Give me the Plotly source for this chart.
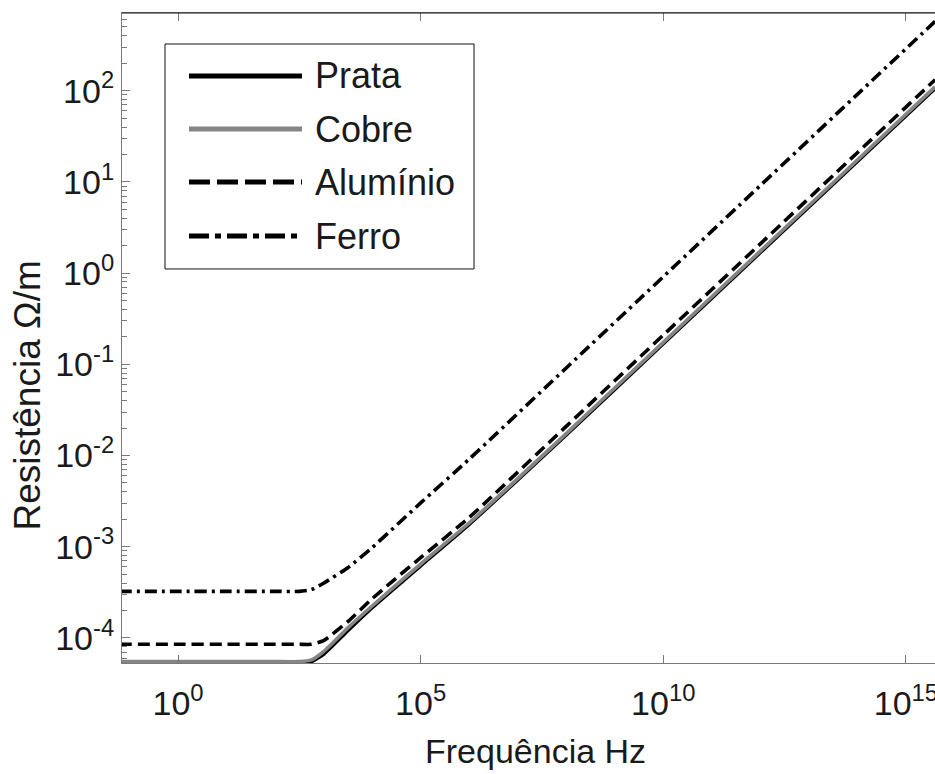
import plotly.graph_objects as go

# ---- data ----
freq_hz = [0.063, 1, 10, 100, 316, 562, 1000, 3162, 1e4, 1e5, 1e6, 1e8, 1e10, 1e12, 1e14, 4e15]

prata = [5.25e-5, 5.25e-5, 5.25e-5, 5.25e-5, 5.25e-5, 5.50e-5, 6.61e-5, 1.20e-4,
         2.14e-4, 6.17e-4, 1.76e-3, 1.68e-2, 0.168, 1.68, 16.8, 106]
cobre = [5.50e-5, 5.50e-5, 5.50e-5, 5.50e-5, 5.50e-5, 5.75e-5, 7.08e-5, 1.29e-4,
         2.24e-4, 6.46e-4, 1.82e-3, 1.74e-2, 0.174, 1.74, 17.4, 110]
aluminio = [8.51e-5, 8.51e-5, 8.51e-5, 8.51e-5, 8.51e-5, 8.51e-5, 9.33e-5, 1.51e-4,
            2.69e-4, 7.59e-4, 2.09e-3, 2.09e-2, 0.209, 2.09, 20.9, 132]
ferro = [3.24e-4, 3.24e-4, 3.24e-4, 3.24e-4, 3.24e-4, 3.39e-4, 3.98e-4, 5.89e-4,
         9.77e-4, 3.02e-3, 9.12e-3, 9.12e-2, 0.912, 9.12, 91.2, 575]

series_names = ["Prata", "Cobre", "Alumínio", "Ferro"]
series_values = [prata, cobre, aluminio, ferro]

x_tickvals = [1, 1e5, 1e10, 1e15]
x_ticktext = ["10<sup>0</sup>", "10<sup>5</sup>", "10<sup>10</sup>", "10<sup>15</sup>"]
y_tickvals = [1e-4, 1e-3, 1e-2, 1e-1, 1, 10, 100]
y_ticktext = ["10<sup>-4</sup>", "10<sup>-3</sup>", "10<sup>-2</sup>", "10<sup>-1</sup>",
              "10<sup>0</sup>", "10<sup>1</sup>", "10<sup>2</sup>"]

x_title = "Frequência Hz"
y_title = "Resistência Ω/m"

# ---- styles ----
series_colors = ["#000000", "#858585", "#000000", "#000000"]
series_dash = ["solid", "solid", "12px,6px", "12px,5px,3px,5px"]
legend_dash = ["solid", "solid", "21px,7px", "20px,6px,6px,6px"]
axis_gray = "#7a7a7a"
text_color = "#1a1a1a"
font_family = "Liberation Sans, Arial, sans-serif"

fig = go.Figure()
for name, vals, col, dash in zip(series_names, series_values, series_colors, series_dash):
    fig.add_trace(go.Scatter(
        x=freq_hz, y=vals, mode="lines", name=name,
        line=dict(color=col, width=3.6, dash=dash, shape="spline", smoothing=0.5),
        showlegend=False,
    ))

minor_y = [m * 10.0 ** e for e in range(-5, 3) for m in range(2, 10)]

fig.update_layout(
    width=935, height=774,
    margin=dict(l=122, r=0, t=13, b=111, autoexpand=False),
    paper_bgcolor="white", plot_bgcolor="white",
    showlegend=False,
    font=dict(family=font_family, size=34, color=text_color),
    xaxis=dict(
        type="log", range=[-1.154, 15.60],
        tickmode="array", tickvals=x_tickvals, ticktext=x_ticktext,
        ticks="inside", ticklen=8, tickcolor=axis_gray, tickwidth=1,
        showline=True, linecolor=axis_gray, linewidth=1, mirror="ticks",
        showgrid=False, zeroline=False, ticklabelstandoff=10,
        ticklabeloverflow="allow", automargin=False,
        tickfont=dict(family=font_family, size=34, color=text_color),
    ),
    yaxis=dict(
        type="log", range=[-4.275, 2.852],
        tickmode="array", tickvals=y_tickvals, ticktext=y_ticktext,
        ticks="inside", ticklen=8, tickcolor=axis_gray, tickwidth=1,
        showline=True, linecolor=axis_gray, linewidth=1, mirror=False,
        showgrid=False, zeroline=False, automargin=False,
        minor=dict(tickmode="array", tickvals=minor_y, ticks="inside", ticklen=5,
                   tickcolor=axis_gray, showgrid=False),
        tickfont=dict(family=font_family, size=34, color=text_color),
    ),
)

# top frame line
fig.add_shape(type="line", xref="paper", yref="paper", x0=0, x1=1, y0=1, y1=1,
              line=dict(color="#111111", width=1))

# custom legend (box, long line samples, labels)
fig.add_shape(type="rect", xref="paper", yref="paper",
              x0=0.0529, x1=0.4330, y0=0.6062, y1=0.9523,
              line=dict(color="#111111", width=1), fillcolor="white", layer="above")
legend_rows = [0.9031, 0.8215, 0.7400, 0.6569]
for name, col, dash, yy in zip(series_names, series_colors, legend_dash, legend_rows):
    fig.add_shape(type="line", xref="paper", yref="paper",
                  x0=0.0824, x1=0.2214, y0=yy, y1=yy,
                  line=dict(color=col, width=5, dash=dash), layer="above")
    fig.add_annotation(x=0.2349, y=yy, xref="paper", yref="paper", text=name,
                       showarrow=False, xanchor="left", yanchor="middle",
                       font=dict(family=font_family, size=36, color=text_color))

# axis titles
fig.add_annotation(x=0.508, y=-0.136, xref="paper", yref="paper", text=x_title,
                   showarrow=False, xanchor="center", yanchor="middle",
                   font=dict(family=font_family, size=34, color=text_color))
fig.add_annotation(x=-0.116, y=0.411, xref="paper", yref="paper", text=y_title,
                   showarrow=False, xanchor="center", yanchor="middle", textangle=-90,
                   font=dict(family=font_family, size=37, color=text_color))

fig.write_html("out.html")
